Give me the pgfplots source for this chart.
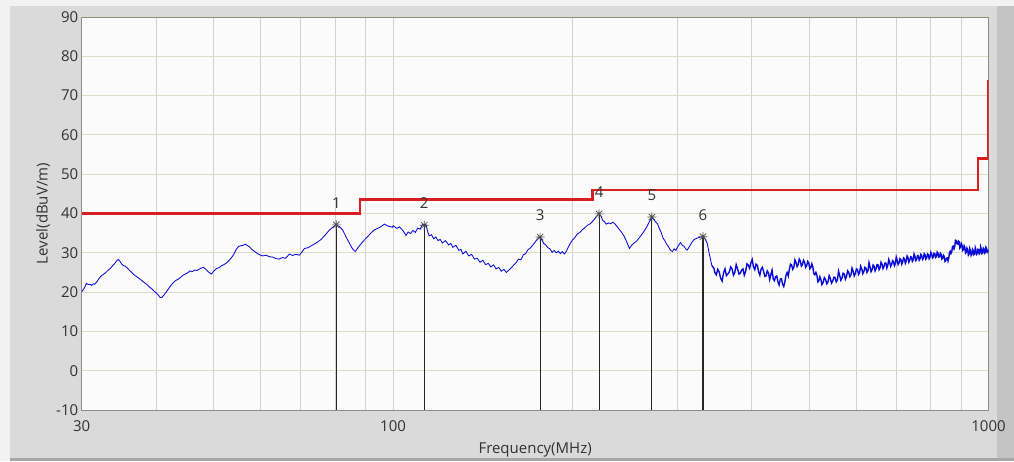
\documentclass[border=0pt]{standalone}
\usepackage{fontspec}
\setmainfont{Open Sans}
\usepackage{pgfplots}
\pgfplotsset{compat=1.18}
\definecolor{outerbg}{RGB}{242,242,242}
\definecolor{panel}{RGB}{218,218,218}
\definecolor{rstrip}{RGB}{196,196,196}
\definecolor{plotbg}{RGB}{251,251,251}
\definecolor{vgrid}{RGB}{210,210,210}
\definecolor{hgrid}{RGB}{224,219,198}
\definecolor{limred}{RGB}{216,30,30}
\definecolor{trace}{RGB}{10,10,215}
\definecolor{txt}{RGB}{50,50,50}
\pgfdeclareplotmark{star8}{%
 \pgfpathmoveto{\pgfqpoint{0pt}{\pgfplotmarksize}}\pgfpathlineto{\pgfqpoint{0pt}{-\pgfplotmarksize}}%
 \pgfpathmoveto{\pgfqpoint{\pgfplotmarksize}{0pt}}\pgfpathlineto{\pgfqpoint{-\pgfplotmarksize}{0pt}}%
 \pgfpathmoveto{\pgfqpoint{0.707\pgfplotmarksize}{0.707\pgfplotmarksize}}\pgfpathlineto{\pgfqpoint{-0.707\pgfplotmarksize}{-0.707\pgfplotmarksize}}%
 \pgfpathmoveto{\pgfqpoint{-0.707\pgfplotmarksize}{0.707\pgfplotmarksize}}\pgfpathlineto{\pgfqpoint{0.707\pgfplotmarksize}{-0.707\pgfplotmarksize}}%
 \pgfusepathqstroke}
\begin{document}
\begin{tikzpicture}
\path[use as bounding box] (-81.7pt,-51pt) rectangle (932.3pt,410pt);
\fill[outerbg] (-81.7pt,-51pt) rectangle (932.3pt,410pt);
\fill[panel] (-71.7pt,-48pt) rectangle (915.3pt,404pt);
\fill[rstrip] (915.3pt,-51pt) rectangle (932.3pt,404pt);
\fill[black!35] (-71.7pt,-51pt) rectangle (932.3pt,-48pt);
\begin{axis}[
  at={(0,0)}, anchor=south west,
  scale only axis, width=906.8pt, height=393pt,
  xmode=log, log basis x=10,
  xmin=30, xmax=1000, ymin=-10, ymax=90,
  xtick={30,100,1000}, xticklabels={30,100,1000},
  minor xtick={40,50,60,70,80,90,200,300,400,500,600,700,800,900},
  ytick={-10,0,10,20,30,40,50,60,70,80,90},
  xmajorgrids, xminorgrids, ymajorgrids,
  major x grid style={vgrid, line width=1pt},
  minor x grid style={vgrid, line width=1pt},
  major y grid style={hgrid, line width=1pt},
  major tick length=0pt, minor tick length=0pt,
  axis background/.style={fill=plotbg},
  axis line style={draw=black!45, line width=0.8pt},
  /pgf/number format/assume math mode=true,
  tick label style={font=\fontsize{15}{18}\selectfont, text=txt},
  xticklabel style={yshift=-7pt},
  xlabel={Frequency(MHz)}, ylabel={Level(dBuV/m)},
  label style={font=\fontsize{15}{18}\selectfont, text=txt},
  xlabel style={at={(axis description cs:0.5,-0.1018)}, anchor=center},
  ylabel style={at={(axis description cs:-0.0427,0.5)}, anchor=center},
  unbounded coords=jump,
]
% limit line
\addplot[limred, line width=2.6pt] coordinates {
(30,40) (88,40) (88,43.5) (216,43.5) (216,46) (960,46) (960,54) (1000,54) (1000,74)};
% measured trace, 30-343 MHz
\addplot[trace, line width=0.85pt] table {
f L
30 20.1
30.3 21.0
30.55 22.2
30.8 21.9
31.0 22.0
31.15 21.7
31.4 22.1
31.55 22.0
31.8 22.6
32.1 23.5
32.4 24.2
32.7 24.6
33.0 25.1
33.2 25.5
33.5 26.0
33.8 26.7
34.1 27.3
34.35 28.0
34.55 28.3
34.75 27.9
35.0 27.2
35.2 26.8
35.5 26.6
35.8 26.1
36.1 25.5
36.4 25.0
36.8 24.3
37.2 23.8
37.6 23.3
38.0 22.7
38.5 22.1
39.0 21.3
39.5 20.6
40.0 19.8
40.3 19.3
40.6 18.7
40.9 18.6
41.2 19.2
41.5 19.8
41.9 20.7
42.3 21.6
42.8 22.5
43.2 23.0
43.6 23.3
44.0 23.8
44.4 24.3
44.8 24.6
45.2 24.9
45.6 25.4
46.0 25.2
46.4 25.6
46.8 25.5
47.2 25.8
47.6 26.1
48.0 26.3
48.5 25.8
49.0 25.1
49.5 24.6
50.0 25.3
50.5 26.0
51.0 26.2
51.5 26.7
52.0 27.0
52.5 27.4
53.0 28.0
53.5 28.7
54.0 29.6
54.5 30.8
55.0 31.6
55.5 31.8
56.0 31.9
56.5 32.2
57.0 31.8
57.5 31.4
58.0 30.8
58.7 30.2
59.5 29.6
60.4 29.2
61.2 29.4
62.0 29.0
62.8 28.9
63.6 28.5
64.4 28.4
65.2 28.8
66.0 28.6
67.0 29.7
67.8 29.3
68.6 29.6
69.6 29.4
70.3 30.2
71.0 31.1
72.0 31.3
73.3 32.0
74.5 32.6
75.7 33.4
77.0 34.6
78.2 35.8
79.2 36.5
80.2 37.1
81.2 36.7
82.3 35.8
83.4 34.0
84.5 32.4
85.5 31.0
86.4 30.3
87.5 31.5
88.9 32.8
90.5 34.0
92.0 35.2
93.0 35.8
94.5 36.3
95.5 36.7
96.7 37.3
98.0 36.8
99.8 36.5
100 36.9
101.5 36.2
102.5 36.6
103.8 35.7
104.5 35.1
105.1 34.4
106 35.3
107 34.9
108 35.7
109 35.2
110 36.3
111 36.0
112 37.2
112.8 37.0
113.5 37.3
114.2 35.6
115 34.3
116 34.6
117 33.6
118 34.0
119 33.1
120 33.4
121 32.5
122.5 33.1
124 32.0
125 32.4
126 31.4
127.5 31.9
129 30.6
130 30.9
131 29.7
132.5 30.4
134 29.2
135.5 29.6
137 28.4
138.5 28.6
140 27.6
141.5 28.1
143 27.0
144.5 27.3
146 26.4
147.5 26.9
149 25.9
150.5 26.3
152 25.3
153.5 25.8
155 25.0
156.5 25.6
158 26.2
159.5 26.9
161 27.5
162.5 28.4
164 28.2
165.5 29.5
167 29.8
168.5 30.8
170 31.2
171.5 31.9
173 32.6
174.5 33.4
176 34.0
177.5 33.5
179 32.4
180.5 32.0
182 31.3
183.5 31.0
185 30.1
186.5 30.6
188 30.0
189.5 30.4
191 29.8
192.5 30.3
194 29.7
195.5 30.4
197 31.5
198.5 32.4
200 33.2
202 33.9
204 34.8
206 35.2
208 35.9
210 36.4
212 37.0
214 37.3
216 37.9
218 38.6
220 39.4
221.8 39.9
223.5 39.3
225 38.2
226.5 37.9
228 37.3
230 37.6
232 37.4
234 37.8
236 37.3
238 36.6
240 35.9
242 35.2
244 34.4
246 33.3
248 32.0
249.5 31.1
251.5 31.9
254 32.5
256.5 33.0
259 33.8
261.5 34.6
264 35.5
266.5 36.5
269 37.7
271.9 39.0
274 38.5
276 37.9
278 37.4
280 36.2
282 35.2
284 33.8
286 33.1
288 32.2
290 31.6
292 30.8
294.4 30.3
296.5 31.0
298.5 30.6
300.5 31.5
302.5 32.2
304 32.6
306 31.9
308 31.7
310 31.0
312 30.7
314 31.4
316 32.1
318 32.8
320 33.3
322.5 33.6
325 33.8
328 34.0
331.5 34.1
334 33.6
337 32.4
340 29.5
343 26.8
};
% measured trace, 343-1000 MHz (noisy)
\addplot[trace, line width=1.4pt] table {
f L
343 26.8
346 26.0
347 25.0
349 24.4
351 25.8
353 25.1
355 23.5
357 22.8
359 24.9
361 25.9
363 24.2
365 24.6
367 25.1
369 26.4
371 25.9
373 24.3
375 25.0
377 27.0
379 25.9
381 24.6
383 24.8
385 25.6
387 25.9
389 24.3
391 25.3
393 27.2
395 26.9
397 26.1
399 27.4
401 28.3
403 26.4
405 25.7
407 27.1
409 26.8
411 25.2
413 24.3
415 25.8
417 26.3
419 25.3
421 24.0
423 24.1
425 25.4
427 24.9
429 23.2
431 24.5
433 25.6
435 23.3
437 22.9
439 23.9
441 24.1
443 22.6
445 21.8
447 23.3
449 23.4
451 22.0
453 21.4
455 22.6
457 24.3
459 25.0
461 24.1
463 25.8
465 27.1
467 26.9
469 25.8
471 26.3
473 28.2
475 27.6
477 26.5
479 27.0
481 28.4
483 27.9
485 26.6
487 27.0
489 28.1
491 27.6
493 26.3
495 26.7
497 27.8
499 27.4
501 25.9
503 26.2
505 27.2
507 26.4
509 24.7
511 24.4
513 25.0
515 24.3
517 22.6
519 22.9
521 23.9
523 23.2
525 21.9
527.5 22.4
530 23.7
532.5 23.2
535 22.1
537.5 22.6
540 24.2
542.5 23.5
545 22.3
547.5 22.8
550 23.8
552.5 23.7
555 22.6
557.5 23.1
560 25.3
562.5 24.2
565 23.0
567.5 23.6
570 24.8
572.5 24.6
575 23.3
577.5 24.0
580 25.4
582.5 25.0
585 23.9
587.5 24.4
590 26.1
592.5 25.3
595 24.1
597.5 24.7
600 25.9
602.5 25.7
605 24.5
607.5 25.0
610 26.6
612.5 25.9
615 24.7
617.5 25.2
620 26.3
622.5 26.1
625 25.0
627.5 25.5
630 27.5
632.5 26.4
635 25.2
637.5 25.7
640 26.9
642.5 26.6
645 25.4
647.5 26.0
650 27.0
652.5 26.9
655 25.7
657.5 26.2
660 27.6
662.5 27.1
665 26.0
667.5 26.5
670 27.4
672.5 27.4
675 26.1
677.5 26.8
680 28.3
682.5 27.6
685 26.5
687.5 27.0
690 28.0
692.5 27.8
695 26.7
697.5 27.2
700 28.9
702.5 28.1
705 27.0
707.5 27.4
710 28.5
712.5 28.3
715 27.1
717.5 27.6
720 28.7
722.5 28.5
725 27.3
727.5 27.9
730 29.2
732.5 28.8
735 27.6
737.5 28.1
740 29.0
742.5 28.9
745 27.8
747.5 28.2
750 29.7
752.5 29.1
755 28.0
757.5 28.3
760 29.3
762.5 29.2
765 28.1
767.5 28.5
770 29.6
772.5 29.3
775 28.3
777.5 28.6
780 29.8
782.5 29.5
785 28.4
787.5 28.7
790 29.7
792.5 29.5
795 28.5
797.5 28.9
800 30.1
802.5 29.7
805 28.7
807.5 28.9
810 29.9
812.5 29.8
815 28.8
817.5 29.0
820 30.2
822.5 29.9
825 28.9
827.5 29.0
830 29.9
832.5 29.6
835 28.4
837.5 28.6
840 29.4
842.5 29.1
845 27.8
847.5 28.0
850 28.6
852.5 28.7
855 27.9
857.5 28.6
860 30.1
862.5 30.4
865 29.8
867.5 30.2
870 31.6
872.5 31.7
875 31.0
877.5 31.5
880 33.2
882.5 33.1
885 32.3
887.5 32.2
890 33.0
892.5 32.8
895 31.2
897.5 31.5
900 32.4
902.5 32.0
905 30.6
907.5 30.8
910 31.8
912.5 31.4
915 29.9
917.5 30.1
920 31.2
922.5 30.8
925 29.4
927.5 29.7
930 31.1
932.5 30.5
935 29.3
937.5 29.6
940 30.9
942.5 30.6
945 29.5
947.5 29.7
950 31.3
952.5 30.7
955 29.6
957.5 29.8
960 30.9
962.5 30.8
965 29.7
967.5 29.9
970 31.5
972.5 30.9
975 29.8
977.5 30.0
980 31.2
982.5 31.0
985 29.9
987.5 30.1
990 31.4
992.5 31.1
995 30.1
997.5 30.3
1000 30.8
};
% marker drop lines
\addplot[black!85, line width=1.1pt] coordinates {
(80.3,-10) (80.3,37.1) (80.3,nan)
(112.8,-10) (112.8,37.0) (112.8,nan)
(176.6,-10) (176.6,34.0) (176.6,nan)
(221.8,-10) (221.8,39.9) (221.8,nan)
(272.0,-10) (272.0,39.1) (272.0,nan)
(331.5,-10) (331.5,34.1)};
% markers with numbers
\addplot[only marks, mark=star8, mark size=4.5pt, black!70, line width=0.7pt,
  point meta=explicit symbolic, nodes near coords,
  every node near coord/.append style={anchor=south, inner sep=0pt, yshift=16pt,
    text=txt, font=\fontsize{15}{18}\selectfont}]
table[meta=lab] {
f L lab
80.3 37.1 1
112.8 37.0 2
176.6 34.0 3
221.8 39.9 4
272.0 39.1 5
331.5 34.1 6
};
\end{axis}
\end{tikzpicture}
\end{document}
